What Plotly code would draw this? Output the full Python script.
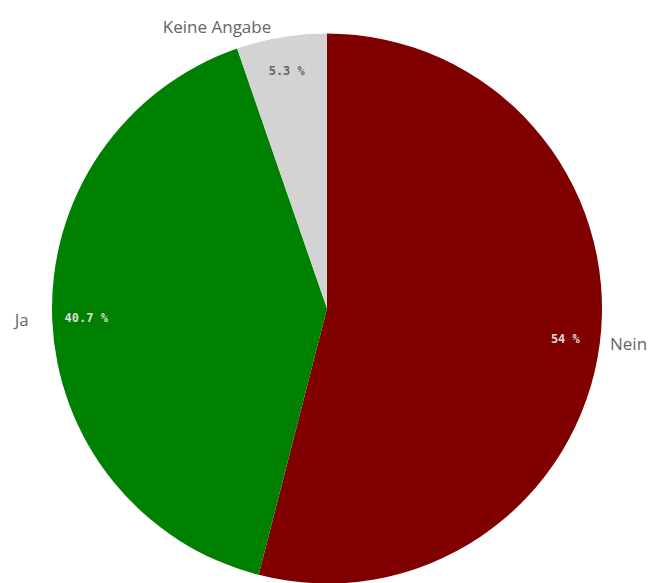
import plotly.graph_objects as go

labels = ["Nein", "Ja", "Keine Angabe"]
values = [54.0, 40.7, 5.3]
colors = ["#800000", "#008000", "#d3d3d3"]
pct_colors = ["#dcdcdc", "#dcdcdc", "#666666"]

pct_text = [f"{v:g} %" for v in values]

NB = "\u00a0"
label_templates = [NB + "%{label}", "%{label}" + NB * 4, "%{label}" + NB]

fig = go.Figure()

# slices with outside category labels
fig.add_trace(go.Pie(
    labels=labels, values=values, sort=False, direction="clockwise", rotation=0,
    marker=dict(colors=colors, line=dict(width=0)),
    texttemplate=label_templates, textposition="outside",
    outsidetextfont=dict(family="Open Sans, sans-serif", size=17, color="#666666"),
    showlegend=False,
))

# percentages near the rim (transparent ring)
fig.add_trace(go.Pie(
    labels=labels, values=values, sort=False, direction="clockwise", rotation=0,
    hole=0.75,
    marker=dict(colors=["rgba(0,0,0,0)"] * 3, line=dict(width=0)),
    text=pct_text, texttemplate="<b>%{text}</b>", textposition="inside",
    insidetextorientation="horizontal",
    insidetextfont=dict(family="DejaVu Sans Mono, monospace", size=12, color=pct_colors),
    showlegend=False, hoverinfo="skip",
))

fig.update_layout(
    width=656, height=583,
    margin=dict(l=38, r=62, t=21, b=6),
    paper_bgcolor="white", plot_bgcolor="white",
    showlegend=False,
)

fig.write_html("out.html")
